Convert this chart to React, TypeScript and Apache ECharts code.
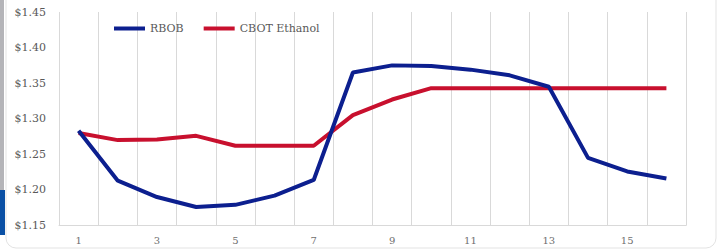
import React, { useEffect, useRef } from "react";
import * as echarts from "echarts";

const categories = ["1","2","3","4","5","6","7","8","9","10","11","12","13","14","15","16"];
const rbob = [1.283, 1.213, 1.19, 1.176, 1.179, 1.192, 1.214, 1.365, 1.375, 1.374, 1.369, 1.361, 1.345, 1.245, 1.226, 1.216];
const cbotEthanol = [1.28, 1.27, 1.271, 1.276, 1.262, 1.262, 1.262, 1.305, 1.327, 1.343, 1.343, 1.343, 1.343, 1.343, 1.343, 1.343];
const seriesNames = ["RBOB", "CBOT Ethanol"];

const FONT = "DejaVu Serif";

export default function App() {
  const ref = useRef<HTMLDivElement>(null);
  useEffect(() => {
    if (!ref.current) return;
    const chart = echarts.init(ref.current, null, { renderer: "svg" });
    chart.setOption({
      animation: false,
      backgroundColor: "#ffffff",
      graphic: [
        { type: "rect", shape: { x: 0, y: 0, width: 4, height: 190 }, style: { fill: "#b4b4b8" }, silent: true },
        { type: "rect", shape: { x: 0, y: 190, width: 5, height: 45 }, style: { fill: "#0a50a5" }, silent: true },
        {
          type: "rect",
          shape: { x: 6, y: -20, width: 710, height: 268, r: 10 },
          style: { fill: "none", stroke: "#e3e3e3", lineWidth: 1 },
          silent: true,
          z: -1,
        },
      ],
      grid: { left: 59, right: 36, top: 12, bottom: 26.5, containLabel: false },
      legend: {
        left: 109,
        top: 18,
        icon: "rect",
        itemWidth: 31,
        itemHeight: 4,
        itemGap: 20,
        data: seriesNames,
        textStyle: { fontFamily: FONT, fontSize: 11, color: "#595959" },
      },
      xAxis: {
        type: "category",
        data: categories,
        boundaryGap: true,
        axisLine: { show: true, lineStyle: { color: "#d9d9d9", width: 1 } },
        axisTick: { show: false },
        axisLabel: { interval: 1, margin: 10, fontFamily: FONT, fontSize: 10, color: "#6f6f6f" },
        splitLine: { show: true, interval: 0, lineStyle: { color: "#d9d9d9", width: 1 } },
      },
      yAxis: {
        type: "value",
        min: 1.15,
        max: 1.45,
        interval: 0.05,
        axisLine: { show: false },
        axisTick: { show: false },
        splitLine: { show: false },
        axisLabel: {
          margin: 13,
          fontFamily: FONT,
          fontSize: 11,
          color: "#595959",
          formatter: (v: number) => "$" + v.toFixed(2),
        },
      },
      series: [
        {
          name: seriesNames[0],
          type: "line",
          data: rbob,
          symbol: "none",
          lineStyle: { color: "#0c1f8f", width: 4 },
          itemStyle: { color: "#0c1f8f" },
          z: 3,
        },
        {
          name: seriesNames[1],
          type: "line",
          data: cbotEthanol,
          symbol: "none",
          lineStyle: { color: "#c8102e", width: 4 },
          itemStyle: { color: "#c8102e" },
          z: 2,
        },
      ],
    });
    return () => chart.dispose();
  }, []);
  return <div ref={ref} style={{ width: 722, height: 252, position: "absolute", left: 0, top: 0 }} />;
}
